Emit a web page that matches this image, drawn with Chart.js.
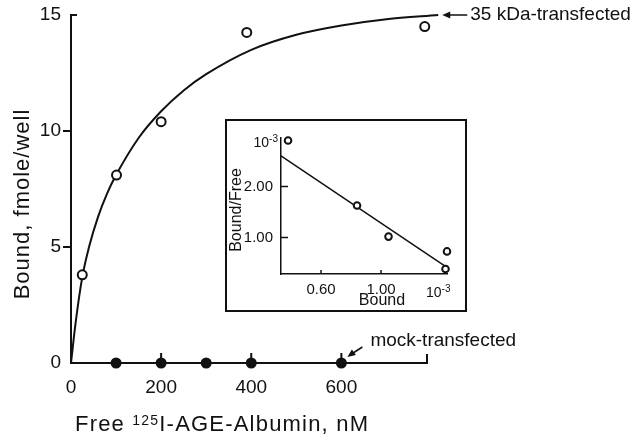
<!DOCTYPE html>
<html>
<head>
<meta charset="utf-8">
<script src="https://cdn.jsdelivr.net/npm/chart.js@4.4.1/dist/chart.umd.min.js"></script>
<style>
  body { margin: 0; background: #fff; }
  #wrap { position: relative; width: 631px; height: 435px; }
  #wrap canvas { display: block; }
  #inset {
    position: absolute; left: 225px; top: 119px; width: 242px; height: 193px;
    border: 2px solid #111; box-sizing: border-box; background: #fff;
  }
</style>
</head>
<body>
<div id="wrap">
  <canvas id="main" width="631" height="435"></canvas>
  <div id="inset"><canvas id="scatchard" width="238" height="189"></canvas></div>
</div>
<script>
const FONT = '"Liberation Sans", Arial, Helvetica, sans-serif';
const INK = '#111';

// 35 kDa-transfected wells: free ligand (nM) and bound (fmole/well)
const freeTransfected = [25, 101, 200, 390, 785];
const boundTransfected = [3.8, 8.1, 10.4, 14.25, 14.5];

// saturation curve drawn through the transfected wells
const curveFree = [0, 10, 25, 40, 60, 80, 100, 150, 200, 250, 300, 400, 500, 600, 700, 815];
const curveBound = [0, 1.7, 3.7, 5.0, 6.3, 7.3, 8.1, 9.7, 10.85, 11.75, 12.45, 13.5, 14.15, 14.55, 14.82, 15.0];

// mock-transfected wells
const freeMock = [100, 200, 300, 400, 600];
const boundMock = [0, 0, 0, 0, 0];

const xTicks = [0, 200, 400, 600];
const yTicks = [0, 5, 10, 15];

// Scatchard plot (inset): bound vs bound/free, both x 10^-3
const insetBound = [0.38, 0.84, 1.05, 1.43, 1.44];
const insetRatio = [2.90, 1.63, 1.02, 0.385, 0.73];
const insetLineBound = [0.333, 1.427];
const insetLineRatio = [2.60, 0.44];
const insetXTicks = [0.6, 1.0];
const insetYTicks = [1.0, 2.0];

const toPoints = (xs, ys) => xs.map((x, i) => ({ x: x, y: ys[i] }));

// text with a raised exponent, e.g. 10^-3
function drawPower(ctx, base, exp, x, y, size, align) {
  ctx.save();
  ctx.fillStyle = INK;
  ctx.textBaseline = 'alphabetic';
  ctx.font = size + 'px ' + FONT;
  const wb = ctx.measureText(base).width;
  const small = Math.round(size * 0.7);
  ctx.font = small + 'px ' + FONT;
  const we = ctx.measureText(exp).width;
  let left = x;
  if (align === 'right') left = x - wb - we;
  ctx.font = size + 'px ' + FONT;
  ctx.textAlign = 'left';
  ctx.fillText(base, left, y);
  ctx.font = small + 'px ' + FONT;
  ctx.fillText(exp, left + wb, y - size * 0.38);
  ctx.restore();
}

const mainMarks = {
  id: 'mainMarks',
  afterDraw(chart) {
    const ctx = chart.ctx;
    const xs = chart.scales.x;
    const ys = chart.scales.y;
    const area = chart.chartArea;
    ctx.save();
    ctx.strokeStyle = INK;
    ctx.fillStyle = INK;
    ctx.lineWidth = 2;

    // inward ticks on the x axis and the end cap
    ctx.beginPath();
    [200, 400, 600].forEach(v => {
      const px = xs.getPixelForValue(v);
      ctx.moveTo(px, area.bottom);
      ctx.lineTo(px, area.bottom - 10);
    });
    ctx.moveTo(area.right, area.bottom);
    ctx.lineTo(area.right, area.bottom - 9);
    // cap at the top of the y axis
    ctx.moveTo(area.left - 1, area.top);
    ctx.lineTo(area.left + 6, area.top);
    ctx.stroke();

    // y title
    ctx.save();
    ctx.font = '22px ' + FONT;
    ctx.letterSpacing = '1px';
    ctx.textAlign = 'center';
    ctx.textBaseline = 'middle';
    ctx.translate(23, (area.top + area.bottom) / 2 + 15);
    ctx.rotate(-Math.PI / 2);
    ctx.fillText('Bound, fmole/well', 0, 0);
    ctx.restore();

    // x title with superscript mass number
    ctx.save();
    ctx.letterSpacing = '1.2px';
    ctx.textBaseline = 'alphabetic';
    ctx.textAlign = 'left';
    let tx = 75;
    const ty = 431;
    ctx.font = '22px ' + FONT;
    ctx.fillText('Free ', tx, ty);
    tx += ctx.measureText('Free ').width;
    ctx.font = '14px ' + FONT;
    ctx.fillText('125', tx, ty - 6);
    tx += ctx.measureText('125').width;
    ctx.font = '22px ' + FONT;
    ctx.fillText('I-AGE-Albumin, nM', tx, ty);
    ctx.restore();

    // label for the transfected curve, arrow pointing at its end
    const last = curveFree.length - 1;
    const ex = xs.getPixelForValue(curveFree[last]);
    const ey = ys.getPixelForValue(curveBound[last]);
    ctx.lineWidth = 1.5;
    ctx.beginPath();
    ctx.moveTo(ex + 10, ey);
    ctx.lineTo(ex + 29, ey);
    ctx.stroke();
    ctx.beginPath();
    ctx.moveTo(ex + 4, ey);
    ctx.lineTo(ex + 12, ey - 3.5);
    ctx.lineTo(ex + 12, ey + 3.5);
    ctx.closePath();
    ctx.fill();
    ctx.font = '19px ' + FONT;
    ctx.textAlign = 'left';
    ctx.textBaseline = 'middle';
    ctx.fillText('35 kDa-transfected', ex + 32, ey);

    // label for the mock wells, arrow pointing at the 600 nM dot
    const mx = xs.getPixelForValue(freeMock[freeMock.length - 1]);
    const my = ys.getPixelForValue(boundMock[boundMock.length - 1]);
    const tipX = mx + 6, tipY = my - 6;
    ctx.beginPath();
    ctx.moveTo(tipX + 5, tipY - 3.5);
    ctx.lineTo(mx + 21, my - 16);
    ctx.stroke();
    ctx.beginPath();
    ctx.moveTo(tipX, tipY);
    ctx.lineTo(tipX + 8.5, tipY - 2);
    ctx.lineTo(tipX + 4.5, tipY - 7.5);
    ctx.closePath();
    ctx.fill();
    ctx.fillText('mock-transfected', mx + 29, my - 22);
    ctx.restore();
  }
};

new Chart(document.getElementById('main'), {
  type: 'scatter',
  data: {
    datasets: [
      {
        label: '35 kDa-transfected',
        data: toPoints(freeTransfected, boundTransfected),
        pointRadius: 4.5,
        pointBorderWidth: 2,
        pointBorderColor: INK,
        pointBackgroundColor: '#fff',
        clip: false
      },
      {
        label: 'mock-transfected',
        data: toPoints(freeMock, boundMock),
        pointRadius: 5.5,
        pointBorderWidth: 0,
        pointBackgroundColor: INK,
        clip: false
      },
      {
        label: 'fit',
        data: toPoints(curveFree, curveBound),
        showLine: true,
        borderColor: INK,
        borderWidth: 2,
        pointRadius: 0,
        cubicInterpolationMode: 'monotone',
        clip: false
      }
    ]
  },
  options: {
    responsive: false,
    animation: false,
    events: [],
    layout: { padding: { left: 0, top: 15, right: 204, bottom: 0 } },
    plugins: { legend: { display: false }, tooltip: { enabled: false } },
    scales: {
      x: {
        type: 'linear',
        min: 0,
        max: 790,
        afterFit: s => { s.height = 72; },
        afterBuildTicks: s => { s.ticks = xTicks.map(v => ({ value: v })); },
        grid: { display: false, drawTicks: false },
        border: { display: true, color: INK, width: 2 },
        ticks: { padding: 13, color: INK, maxRotation: 0, font: { family: FONT, size: 19 } }
      },
      y: {
        type: 'linear',
        min: 0,
        max: 15,
        afterFit: s => { s.width = 71; },
        afterBuildTicks: s => { s.ticks = yTicks.map(v => ({ value: v })); },
        grid: {
          display: true,
          drawOnChartArea: false,
          drawTicks: true,
          tickLength: 8,
          lineWidth: 2,
          color: c => (c.tick && (c.tick.value === 5 || c.tick.value === 10)) ? INK : 'rgba(0,0,0,0)'
        },
        border: { display: true, color: INK, width: 2 },
        ticks: { padding: 2, color: INK, font: { family: FONT, size: 19 } }
      }
    }
  },
  plugins: [mainMarks]
});

const insetMarks = {
  id: 'insetMarks',
  afterDraw(chart) {
    const ctx = chart.ctx;
    const xs = chart.scales.x;
    const ys = chart.scales.y;
    const area = chart.chartArea;
    ctx.save();
    ctx.strokeStyle = INK;
    ctx.fillStyle = INK;
    ctx.lineWidth = 1.5;
    ctx.beginPath();
    insetXTicks.forEach(v => {
      const px = xs.getPixelForValue(v);
      ctx.moveTo(px, area.bottom);
      ctx.lineTo(px, area.bottom - 4);
    });
    insetYTicks.forEach(v => {
      const py = ys.getPixelForValue(v);
      ctx.moveTo(area.left, py);
      ctx.lineTo(area.left + 7, py);
    });
    ctx.stroke();

    // exponent markers on both axes
    drawPower(ctx, '10', '-3', area.left - 3, area.top + 9, 14, 'right');
    drawPower(ctx, '10', '-3', area.right - 21, area.bottom + 23, 14, 'left');

    ctx.font = '16px ' + FONT;
    ctx.textAlign = 'center';
    ctx.textBaseline = 'middle';
    ctx.fillText('Bound', 155, area.bottom + 27);
    ctx.save();
    ctx.translate(10, 89);
    ctx.rotate(-Math.PI / 2);
    ctx.fillText('Bound/Free', 0, 0);
    ctx.restore();
    ctx.restore();
  }
};

new Chart(document.getElementById('scatchard'), {
  type: 'scatter',
  data: {
    datasets: [
      {
        label: 'Scatchard',
        data: toPoints(insetBound, insetRatio),
        pointRadius: 3.3,
        pointBorderWidth: 2,
        pointBorderColor: INK,
        pointBackgroundColor: '#fff',
        clip: false
      },
      {
        label: 'regression',
        data: toPoints(insetLineBound, insetLineRatio),
        showLine: true,
        borderColor: INK,
        borderWidth: 1.5,
        pointRadius: 0,
        clip: false
      }
    ]
  },
  options: {
    responsive: false,
    animation: false,
    events: [],
    layout: { padding: { left: 0, top: 14, right: 18, bottom: 0 } },
    plugins: { legend: { display: false }, tooltip: { enabled: false } },
    scales: {
      x: {
        type: 'linear',
        min: 0.333,
        max: 1.44,
        afterFit: s => { s.height = 36; },
        afterBuildTicks: s => { s.ticks = insetXTicks.map(v => ({ value: v })); },
        grid: { display: false, drawTicks: false },
        border: { display: true, color: INK, width: 1.5 },
        ticks: { padding: 7, color: INK, maxRotation: 0, font: { family: FONT, size: 15 }, callback: v => v.toFixed(2) }
      },
      y: {
        type: 'linear',
        min: 0.288,
        max: 2.95,
        afterFit: s => { s.width = 54; },
        afterBuildTicks: s => { s.ticks = insetYTicks.map(v => ({ value: v })); },
        grid: { display: false, drawTicks: false },
        border: { display: true, color: INK, width: 1.5 },
        ticks: { padding: 8, color: INK, font: { family: FONT, size: 15 }, callback: v => v.toFixed(2) }
      }
    }
  },
  plugins: [insetMarks]
});
</script>
</body>
</html>
